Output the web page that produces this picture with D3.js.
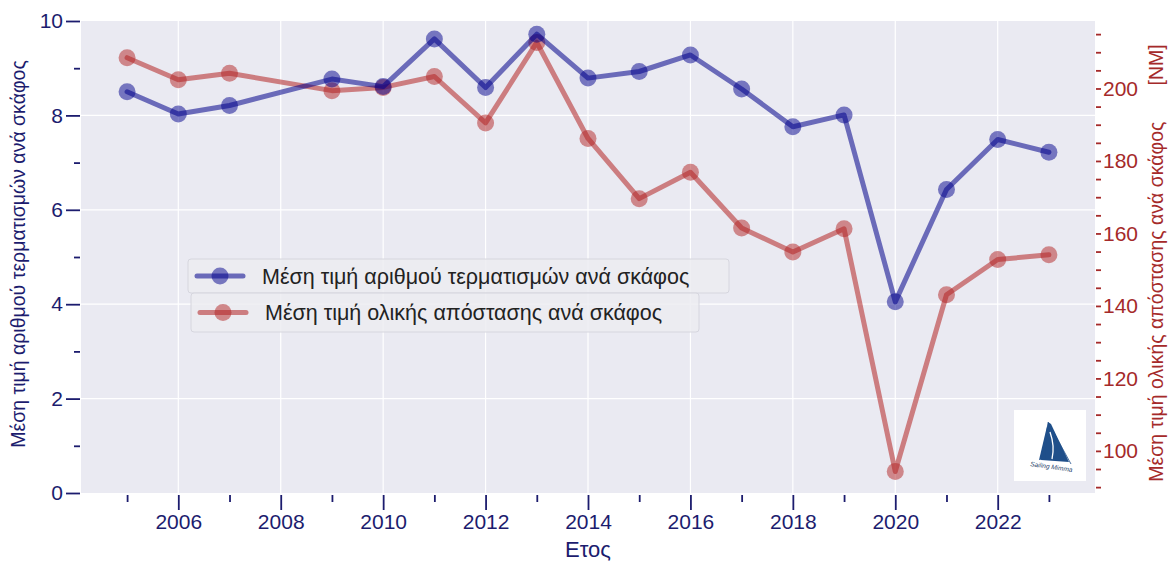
<!DOCTYPE html>
<html><head><meta charset="utf-8">
<script src="https://cdn.jsdelivr.net/npm/d3@7"></script>
<style>
html,body{margin:0;padding:0;background:#fff;}
svg{display:block;font-family:"Liberation Sans",Arial,sans-serif;}
</style></head>
<body>
<svg id="chart" width="1168" height="561"></svg>
<script>
const years = [2005,2006,2007,2009,2010,2011,2012,2013,2014,2015,2016,2017,2018,2019,2020,2021,2022,2023];
const finishes = [8.50,8.03,8.21,8.77,8.61,9.62,8.59,9.72,8.79,8.93,9.28,8.56,7.76,8.01,4.05,6.43,7.49,7.22];
const distance = [208.5,202.4,204.2,199.4,200.3,203.3,190.5,212.7,186.2,169.6,176.9,161.5,154.9,161.3,94.3,143.1,152.8,154.1];
const xTickLabels = [2006,2008,2010,2012,2014,2016,2018,2020,2022];
const leftTicks = [0,2,4,6,8,10];
const rightTickLabels = [100,120,140,160,180,200];
const legendLabels = ["Μέση τιμή αριθμού τερματισμών ανά σκάφος","Μέση τιμή ολικής απόστασης ανά σκάφος"];
const xTitle = "Ετος";
const yLeftTitle = "Μέση τιμή αριθμού τερματισμών ανά σκάφος";
const yRightTitle = "Μέση τιμή ολικής απόστασης ανά σκάφος";
const yRightUnit = "[NM]";

const svg = d3.select("#chart");
const L = 81, R = 1095, T = 21, B = 493;
const navy = "#1c1c6e", brown = "#a52a2a";
const blue = "#00008b", red = "#b22222";
const FONT = "Liberation Sans, Arial, sans-serif";

const x = d3.scaleLinear().domain([2004.1, 2023.9]).range([L, R]);
const yL = d3.scaleLinear().domain([0, 10]).range([B, T]);
const [dmin, dmax] = d3.extent(distance);
const pad = (dmax - dmin) * 0.05;
const yR = d3.scaleLinear().domain([dmin - pad, dmax + pad]).range([B, T]);

// background
svg.append("rect").attr("x", L).attr("y", T).attr("width", R - L).attr("height", B - T).attr("fill", "#eaeaf2");

// grid
const g = svg.append("g");
g.selectAll(".vg").data(xTickLabels).join("line")
  .attr("x1", d => x(d)).attr("x2", d => x(d)).attr("y1", T).attr("y2", B)
  .attr("stroke", "#fff").attr("stroke-width", 1.2);
g.selectAll(".hg").data(leftTicks.slice(1, -1)).join("line")
  .attr("x1", L).attr("x2", R).attr("y1", d => yL(d)).attr("y2", d => yL(d))
  .attr("stroke", "#fff").attr("stroke-width", 1.2);

// x axis
const xMinor = d3.range(2005, 2024, 2);
const xa = svg.append("g").attr("transform", `translate(0,${B + 2})`);
xa.call(d3.axisBottom(x).tickValues(xTickLabels).tickFormat(d3.format("d")).tickSize(15).tickPadding(4));
const xm = svg.append("g").attr("transform", `translate(0,${B + 2})`);
xm.call(d3.axisBottom(x).tickValues(xMinor).tickFormat("").tickSize(7));
[xa, xm].forEach(a => {
  a.select(".domain").remove();
  a.selectAll("line").attr("stroke", navy).attr("stroke-width", 1.8);
  a.selectAll("text").attr("fill", navy).attr("font-size", 21).attr("font-family", FONT);
});

// left axis
const la = svg.append("g").attr("transform", `translate(${L - 1},0)`);
la.call(d3.axisLeft(yL).tickValues(leftTicks).tickFormat(d3.format("d")).tickSize(14).tickPadding(3));
const lm = svg.append("g").attr("transform", `translate(${L - 1},0)`);
lm.call(d3.axisLeft(yL).tickValues([1,3,5,7,9]).tickFormat("").tickSize(6));
[la, lm].forEach(a => {
  a.select(".domain").remove();
  a.selectAll("line").attr("stroke", navy).attr("stroke-width", 1.8);
  a.selectAll("text").attr("fill", navy).attr("font-size", 21).attr("font-family", FONT);
});

// right axis
const rMinor = d3.range(90, 216, 5);
const ra = svg.append("g").attr("transform", `translate(${R + 1},0)`);
ra.call(d3.axisRight(yR).tickValues(rMinor).tickFormat(d => rightTickLabels.includes(d) ? d : "").tickSize(5).tickPadding(2));
ra.select(".domain").remove();
ra.selectAll("line").attr("stroke", brown).attr("stroke-width", 1.8);
ra.selectAll("text").attr("fill", brown).attr("font-size", 21).attr("font-family", FONT);

// axis titles
svg.append("text").attr("x", (L + R) / 2).attr("y", 557).attr("text-anchor", "middle")
  .attr("fill", navy).attr("font-size", 22).text(xTitle);
svg.append("text").attr("transform", `translate(25,${(T + B) / 2 - 3}) rotate(-90)`).attr("text-anchor", "middle")
  .attr("fill", navy).attr("font-size", 19.5).text(yLeftTitle);
const rt = svg.append("text").attr("transform", `translate(1163,${(T + B) / 2 + 6}) rotate(-90)`).attr("text-anchor", "middle")
  .attr("fill", brown).attr("font-size", 19.5);
rt.append("tspan").text(yRightTitle);
rt.append("tspan").attr("dx", 36).text(yRightUnit);

// series
function series(vals, scale, col) {
  const data = years.map((yr, i) => ({ yr, v: vals[i] }));
  const line = d3.line().x(d => x(d.yr)).y(d => scale(d.v));
  svg.append("path").datum(data).attr("d", line).attr("fill", "none")
    .attr("stroke", col).attr("stroke-width", 5).attr("stroke-opacity", 0.55)
    .attr("stroke-linejoin", "round").attr("stroke-linecap", "round");
  svg.append("g").selectAll("circle").data(data).join("circle")
    .attr("cx", d => x(d.yr)).attr("cy", d => scale(d.v)).attr("r", 8.5)
    .attr("fill", col).attr("fill-opacity", 0.5);
}
series(distance, yR, red);
series(finishes, yL, blue);

// legends
function legend(y0, x0, w, h, label, col, tx) {
  const lg = svg.append("g");
  lg.append("rect").attr("x", x0).attr("y", y0).attr("width", w).attr("height", h).attr("rx", 3)
    .attr("fill", "#ececf1").attr("fill-opacity", 0.85).attr("stroke", "#d6d6de").attr("stroke-width", 1);
  const cy = y0 + h / 2;
  lg.append("line").attr("x1", x0 + 9).attr("x2", x0 + 55).attr("y1", cy).attr("y2", cy)
    .attr("stroke", col).attr("stroke-width", 5).attr("stroke-opacity", 0.55).attr("stroke-linecap", "round");
  lg.append("circle").attr("cx", x0 + 32).attr("cy", cy).attr("r", 8.5).attr("fill", col).attr("fill-opacity", 0.5);
  lg.append("text").attr("x", tx).attr("y", cy + 7.5).attr("fill", "#222").attr("font-size", 21.5).text(label);
}
legend(259, 188, 541, 34, legendLabels[0], blue, 262);
legend(293, 191, 508, 39, legendLabels[1], red, 265);

// logo
const lgo = svg.append("g").attr("transform", "translate(1014,410)");
lgo.append("rect").attr("width", 72).attr("height", 71).attr("fill", "#fff");
lgo.append("path").attr("d", "M34,12 L37,14 L55,52 L27,50 Z").attr("fill", "#1f4f8a");
lgo.append("path").attr("d", "M34,12 L31,49 L25,50 Z").attr("fill", "#1f4f8a");
lgo.append("path").attr("d", "M34,12 L57,54").attr("stroke", "#1f4f8a").attr("stroke-width", 0.8).attr("fill", "none");
lgo.append("path").attr("d", "M36,22 Q41,36 38,49").attr("stroke", "#fff").attr("stroke-width", 1.3).attr("fill", "none");
lgo.append("text").attr("x", 37).attr("y", 59).attr("text-anchor", "middle").attr("font-size", 6.5)
  .attr("font-style", "italic").attr("fill", "#1f3f6a").attr("transform", "rotate(8,37,59)").text("Sailing Mimma");
</script>
</body></html>
